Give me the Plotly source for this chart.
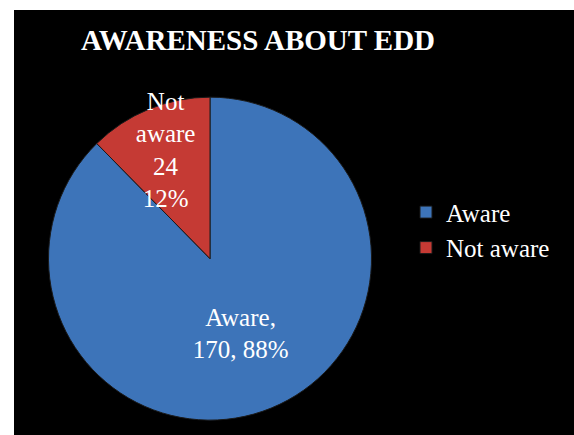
import plotly.graph_objects as go

# data
labels = ["Aware", "Not aware"]
counts = [170, 24]
percents = ["88%", "12%"]

colors = ["#3D74B9", "#C53A34"]
serif = "Liberation Serif, Times New Roman, serif"

slice_text = [
    f"{labels[0]},<br>{counts[0]}, {percents[0]}",
    "Not<br>aware<br>{}<br>{}".format(counts[1], percents[1]),
]

fig = go.Figure()

fig.add_trace(go.Pie(
    labels=labels,
    values=counts,
    text=slice_text,
    textinfo="text",
    textposition="inside",
    insidetextorientation="horizontal",
    textfont=dict(family=serif, size=25, color="white"),
    marker=dict(colors=colors, line=dict(color="#1a1a1a", width=1)),
    sort=False,
    direction="clockwise",
    rotation=0,
    domain=dict(x=[0.061, 0.639], y=[0.035, 0.795]),
    hoverinfo="label+value+percent",
))

# black chart area with white margin on left/top
fig.add_shape(type="rect", xref="paper", yref="paper", x0=0, x1=1, y0=0, y1=1,
              fillcolor="black", line=dict(width=0), layer="below")

fig.add_annotation(text="<b>AWARENESS ABOUT EDD</b>", xref="paper", yref="paper",
                   x=0.436, y=0.929, xanchor="center", yanchor="middle",
                   showarrow=False,
                   font=dict(family=serif, size=29, color="white"))

fig.update_layout(
    width=574, height=435,
    margin=dict(l=14, t=10, r=0, b=0),
    paper_bgcolor="white",
    showlegend=True,
    legend=dict(x=0.70, y=0.578, xanchor="left", yanchor="top",
                font=dict(family=serif, size=25, color="white"),
                bgcolor="rgba(0,0,0,0)"),
    uniformtext=dict(minsize=25, mode="show"),
)

# drop the default page margin so the figure sits at the window's corner
fig.write_html("out.html", config={"displayModeBar": False},
               post_script="document.body.style.margin='0';")
